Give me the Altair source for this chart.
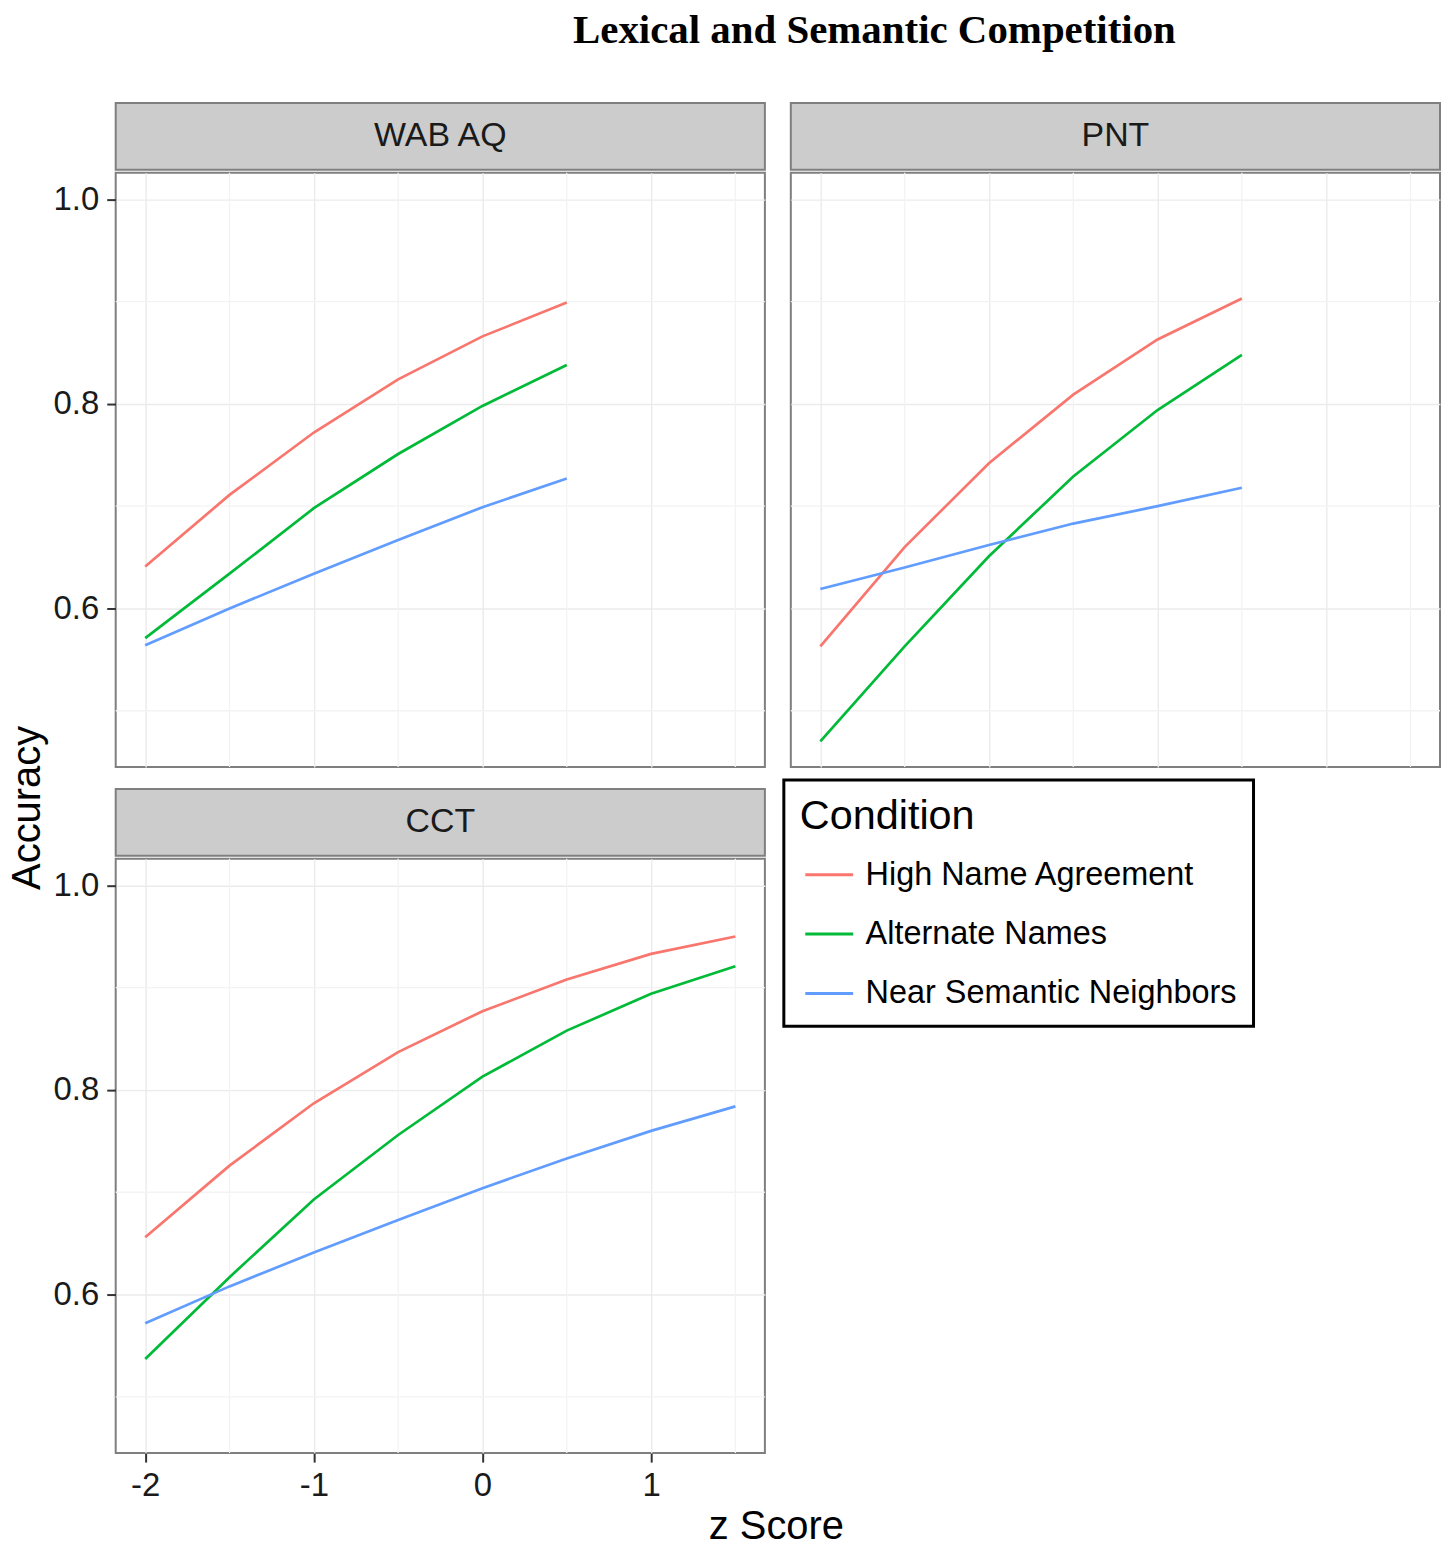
import altair as alt
import pandas as pd

FONT = "Liberation Sans"

# ---------------- data ----------------
conditions = ["High Name Agreement", "Alternate Names", "Near Semantic Neighbors"]
colors = ["#F8766D", "#00BA38", "#619CFF"]

z_top = [-2.0, -1.5, -1.0, -0.5, 0.0, 0.5]
z_cct = [-2.0, -1.5, -1.0, -0.5, 0.0, 0.5, 1.0, 1.5]

wab_high = [0.641, 0.711, 0.772, 0.824, 0.866, 0.899]
wab_alt = [0.571, 0.634, 0.698, 0.751, 0.798, 0.838]
wab_near = [0.564, 0.600, 0.634, 0.667, 0.699, 0.727]

pnt_high = [0.563, 0.660, 0.742, 0.809, 0.863, 0.903]
pnt_alt = [0.470, 0.563, 0.651, 0.729, 0.794, 0.848]
pnt_near = [0.619, 0.640, 0.662, 0.683, 0.700, 0.718]

cct_high = [0.656, 0.726, 0.787, 0.837, 0.877, 0.908, 0.933, 0.950]
cct_alt = [0.537, 0.617, 0.693, 0.756, 0.813, 0.858, 0.894, 0.921]
cct_near = [0.572, 0.608, 0.641, 0.673, 0.704, 0.733, 0.760, 0.784]

panel_names = ["WAB AQ", "PNT", "CCT"]
y_title = ["Accuracy"]

x_major = [-2, -1, 0, 1]
x_minor = [-1.5, -0.5, 0.5, 1.5]
y_major = [0.6, 0.8, 1.0]
y_minor = [0.5, 0.7, 0.9]

x_domain = [-2.175, 1.675]
y_domain = [0.445, 1.026]

W = 651
H = 596
STRIP_H = 67


def long_df(z, high, alt_, near):
    rows = []
    for cond, vals in zip(conditions, [high, alt_, near]):
        for zz, v in zip(z, vals):
            rows.append({"z": zz, "acc": v, "Condition": cond})
    return pd.DataFrame(rows)


LEGEND = dict(
    title="Condition", orient="none", legendX=772, legendY=679,
    symbolType="stroke", symbolSize=2304, symbolStrokeWidth=3,
    symbolOffset=4, labelOffset=11, rowPadding=17.5, titlePadding=12,
    padding=16, strokeColor="black",
)


def panel(df, show_x, show_y):
    x_axis = alt.Axis(
        values=x_major, grid=True, labels=show_x, ticks=show_x, domain=False,
        labelExpr="'' + datum.value",
        title="z Score" if show_x else None,
        titleX=662, titlePadding=5, labelPadding=7,
    )
    y_axis = alt.Axis(
        values=y_major, grid=True, labels=show_y, ticks=show_y, domain=False,
        format=".1f", title=None, labelPadding=8,
    )
    xs = alt.Scale(domain=x_domain, nice=False, zero=False)
    ys = alt.Scale(domain=y_domain, nice=False, zero=False)

    vgrid = alt.Chart(pd.DataFrame({"z": x_minor})).mark_rule(
        color="#f3f3f3", strokeWidth=1.3
    ).encode(x=alt.X("z:Q", scale=xs))
    hgrid = alt.Chart(pd.DataFrame({"acc": y_minor})).mark_rule(
        color="#f3f3f3", strokeWidth=1.3
    ).encode(y=alt.Y("acc:Q", scale=ys))

    lines = alt.Chart(df).mark_line(strokeWidth=2.7).encode(
        x=alt.X("z:Q", scale=xs, axis=x_axis),
        y=alt.Y("acc:Q", scale=ys, axis=y_axis),
        color=alt.Color(
            "Condition:N",
            scale=alt.Scale(domain=conditions, range=colors),
            sort=conditions,
            legend=alt.Legend(**LEGEND),
        ),
    )
    return alt.layer(vgrid, hgrid, lines).properties(width=W, height=H)


def strip(name):
    return alt.Chart(pd.DataFrame({"panel": [name]})).mark_text(
        font=FONT, fontSize=34, color="#1a1a1a", baseline="middle", align="center"
    ).encode(text="panel:N").properties(
        width=W, height=STRIP_H,
        view=alt.ViewBackground(fill="#cccccc", stroke="#7f7f7f", strokeWidth=2),
    )


def build(with_stroke_width):
    df_wab = long_df(z_top, wab_high, wab_alt, wab_near)
    df_pnt = long_df(z_top, pnt_high, pnt_alt, pnt_near)
    df_cct = long_df(z_cct, cct_high, cct_alt, cct_near)

    p_wab = panel(df_wab, False, True)
    p_pnt = panel(df_pnt, False, False)
    p_cct = panel(df_cct, True, True)

    col_wab = alt.vconcat(strip(panel_names[0]), p_wab, spacing=0)
    col_pnt = alt.vconcat(strip(panel_names[1]), p_pnt, spacing=0)
    col_cct = alt.vconcat(strip(panel_names[2]), p_cct, spacing=0)
    row1 = alt.hconcat(col_wab, col_pnt, spacing=22)
    grid = alt.vconcat(row1, col_cct, spacing=19)

    acc = alt.Chart(pd.DataFrame({"t": y_title})).mark_text(
        font=FONT, fontSize=40, color="black", angle=270,
        align="center", baseline="middle",
    ).encode(text="t:N").properties(
        width=28, height=1414,
        view=alt.ViewBackground(stroke="transparent", strokeWidth=0),
    )

    ch = alt.hconcat(acc, grid, spacing=4).properties(
        title=alt.TitleParams(
            "Lexical and Semantic Competition", font="Liberation Serif",
            fontSize=41, fontWeight="bold", color="black", anchor="middle",
            dx=150, offset=50,
        ),
        padding=0,
    )
    legend_cfg = dict(
        titleFont=FONT, titleFontSize=41.5, titleFontWeight="normal", titleColor="black",
        labelFont=FONT, labelFontSize=32.5, labelColor="black", labelLimit=600,
    )
    if with_stroke_width:
        legend_cfg["strokeWidth"] = 3
    ch = ch.configure_view(stroke="#7f7f7f", strokeWidth=2).configure_axis(
        labelFont=FONT, labelFontSize=33, labelColor="#1a1a1a",
        titleFont=FONT, titleFontSize=40, titleFontWeight="normal", titleColor="black",
        tickColor="#333333", tickSize=9, tickWidth=2,
        gridColor="#ebebeb", gridWidth=1.4,
    ).configure_legend(**legend_cfg)
    return ch


try:
    chart = build(True)
    chart.to_dict()
except Exception:
    chart = build(False)

chart.save("out.html", embed_options={"renderer": "svg", "actions": False})
